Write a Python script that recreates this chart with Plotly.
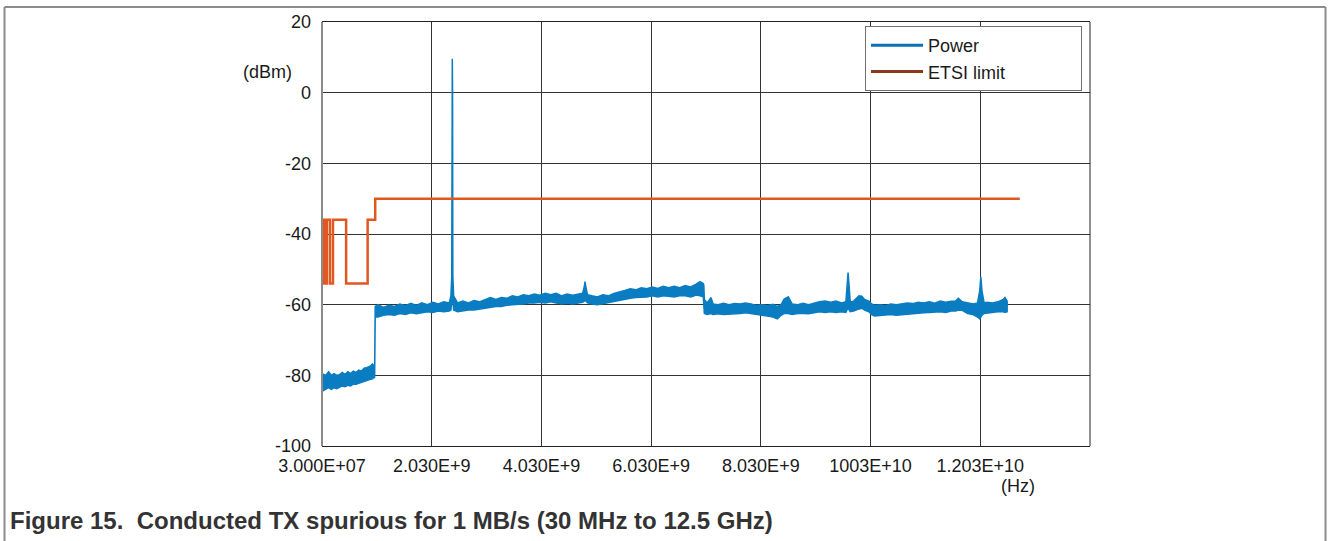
import plotly.graph_objects as go

# ---------------- data ----------------
# Power trace, read off the picture as an upper / lower envelope of the noisy spectrum
pw_freq_ghz = [0.03, 0.10, 0.15, 0.20, 0.25, 0.30, 0.35, 0.40, 0.45, 0.50, 0.55, 0.60, 0.65, 0.70, 0.75,
               0.80, 0.85, 0.90, 0.95, 0.99, 1.00, 1.05, 1.15, 1.25, 1.35, 1.45, 1.55, 1.65, 1.75, 1.85,
               1.95, 2.05, 2.15, 2.25, 2.35, 2.38, 2.395, 2.400, 2.405, 2.410, 2.415, 2.43, 2.50, 2.60,
               2.70, 2.80, 2.90, 3.00, 3.10, 3.20, 3.30, 3.40, 3.50, 3.60, 3.70, 3.80, 3.90, 4.00, 4.10,
               4.20, 4.30, 4.40, 4.50, 4.60, 4.70, 4.78, 4.81, 4.825, 4.84, 4.87, 4.95, 5.05, 5.15, 5.25,
               5.35, 5.45, 5.55, 5.65, 5.75, 5.85, 5.95, 6.05, 6.15, 6.25, 6.35, 6.45, 6.55, 6.65, 6.75,
               6.85, 6.92, 6.98, 6.99, 7.00, 7.05, 7.12, 7.16, 7.25, 7.35, 7.45, 7.55, 7.65, 7.75, 7.85,
               7.95, 8.05, 8.15, 8.25, 8.33, 8.40, 8.45, 8.53, 8.60, 8.70, 8.80, 8.90, 9.00, 9.10, 9.20,
               9.30, 9.40, 9.50, 9.58, 9.60, 9.62, 9.64, 9.66, 9.72, 9.78, 9.82, 9.87, 9.92, 10.00, 10.05,
               10.10, 10.20, 10.30, 10.40, 10.50, 10.60, 10.70, 10.80, 10.90, 11.00, 11.10, 11.20, 11.30,
               11.40, 11.50, 11.58, 11.63, 11.70, 11.80, 11.90, 11.98, 12.02, 12.04, 12.06, 12.10, 12.15,
               12.25, 12.35, 12.45, 12.48, 12.52]
pw_upper = [-79.5, -80.0, -79.0, -80.0, -79.5, -80.0, -79.8, -79.2, -79.8, -79.0, -79.5, -78.8, -79.2, -78.5, -78.8,
            -78.0, -77.8, -77.5, -76.8, -77.5, -60.5, -60.0, -60.8, -60.2, -60.5, -59.8, -60.3, -59.6, -60.2, -59.5,
            -60.0, -59.3, -59.8, -59.2, -59.5, -57.5, -52.0, 0.0, 9.6, 0.0, -52.0, -57.5, -59.5, -59.0,
            -59.5, -58.8, -59.2, -58.5, -58.0, -58.5, -58.0, -58.2, -57.5, -57.8, -57.2, -57.5, -57.0, -57.3, -56.8,
            -57.2, -56.8, -57.5, -57.0, -57.3, -57.0, -56.8, -55.0, -53.5, -55.0, -57.2, -57.5, -57.8, -57.2, -57.5,
            -56.8, -56.5, -56.0, -55.5, -55.8, -55.2, -55.5, -55.0, -55.4, -54.8, -55.2, -54.8, -55.2, -54.6, -55.0,
            -54.2, -53.5, -54.0, -54.5, -58.5, -59.5, -58.0, -59.8, -60.0, -59.6, -60.0, -59.7, -59.8, -59.5, -59.8,
            -60.2, -60.0, -60.3, -59.9, -60.5, -60.0, -58.5, -57.8, -59.8, -60.0, -59.6, -60.0, -59.5, -59.2, -59.0,
            -59.3, -59.0, -59.5, -59.2, -55.0, -50.9, -55.0, -59.3, -59.0, -58.0, -57.5, -57.6, -58.5, -59.0, -59.8,
            -60.2, -60.0, -60.3, -59.8, -60.0, -59.8, -59.5, -59.7, -59.3, -59.5, -59.2, -59.6, -59.0,
            -59.3, -59.0, -59.0, -58.2, -59.2, -59.5, -59.8, -59.5, -56.0, -52.1, -56.0, -59.5, -59.3,
            -59.5, -59.2, -58.5, -58.0, -59.0]
pw_lower = [-84.5, -84.0, -83.5, -84.0, -83.5, -83.8, -83.5, -83.0, -83.2, -82.8, -83.0, -82.5, -82.5, -82.2, -82.0,
            -81.8, -81.5, -81.2, -81.0, -80.5, -63.5, -63.5, -63.0, -62.8, -63.0, -62.5, -62.8, -62.3, -62.6, -62.2,
            -62.0, -62.2, -61.8, -62.0, -61.8, -61.5, -59.0, -58.0, -57.0, -58.0, -59.0, -61.5, -62.0, -61.8,
            -61.5, -61.5, -61.3, -61.0, -60.8, -60.5, -60.5, -60.2, -60.0, -59.8, -59.8, -59.5, -59.5, -59.3, -59.5,
            -59.2, -59.5, -59.8, -59.5, -59.8, -59.5, -59.3, -59.0, -58.5, -59.0, -59.5, -59.8, -60.0, -59.8, -59.5,
            -59.2, -58.8, -58.5, -58.2, -58.0, -57.8, -57.8, -57.5, -57.8, -57.5, -57.6, -57.8, -57.5, -57.5, -57.8,
            -57.3, -57.5, -57.8, -58.0, -62.5, -62.8, -62.5, -62.8, -62.6, -62.8, -62.5, -62.6, -62.5, -62.3, -62.6,
            -62.8, -63.0, -63.2, -63.5, -64.0, -63.0, -62.5, -62.5, -62.8, -62.5, -62.5, -62.6, -62.3, -62.0, -62.2,
            -62.0, -62.2, -62.0, -62.2, -61.5, -61.0, -61.5, -62.0, -61.8, -61.5, -61.2, -61.0, -61.5, -62.0, -62.8,
            -63.2, -63.0, -63.0, -62.8, -63.0, -62.8, -62.6, -62.5, -62.4, -62.3, -62.2, -62.0, -62.0,
            -62.2, -61.8, -61.8, -61.5, -61.6, -62.5, -62.8, -63.5, -64.0, -63.5, -63.0, -62.5, -62.3,
            -62.2, -62.0, -62.0, -62.2, -62.0]

# ETSI spurious limit (step function)
etsi_freq_ghz = [0.03, 0.047, 0.074, 0.0875, 0.118, 0.174, 0.230, 0.470, 0.862, 1.0, 12.75]
etsi_dbm = [-36, -54, -36, -54, -36, -54, -36, -54, -36, -30, -30]

x_tick_hz = [3.0e7, 2.03e9, 4.03e9, 6.03e9, 8.03e9, 1.003e10, 1.203e10, 1.403e10]
x_tick_text = ["3.000E+07", "2.030E+9", "4.030E+9", "6.030E+9", "8.030E+9", "1003E+10", "1.203E+10", ""]
y_ticks = [-100, -80, -60, -40, -20, 0, 20]
y_tick_text = ["-100", "-80", "-60", "-40", "-20", "0", "20"]

# ---------------- layout geometry ----------------
W, H = 1328, 541
L, R, T, B = 322, 1090, 20, 446
pw_w, pw_h = R - L, B - T


def px(x):
    return (x - L) / pw_w


def py(y):
    return (B - y) / pw_h


BLUE = "#0a7dc2"
ORANGE = "#e2571f"
FONT = "Liberation Sans, Arial, sans-serif"
NBSP = "\u00a0"

pw_x = [f * 1e9 for f in pw_freq_ghz]
poly_x = pw_x + pw_x[::-1]
poly_y = pw_upper + pw_lower[::-1]

fig = go.Figure()
fig.add_trace(go.Scatter(x=poly_x, y=poly_y, mode="lines", fill="toself", fillcolor=BLUE,
                         line=dict(color=BLUE, width=1.5), name="Power", showlegend=False,
                         hoverinfo="skip"))
fig.add_trace(go.Scatter(x=[f * 1e9 for f in etsi_freq_ghz], y=etsi_dbm, mode="lines",
                         line=dict(color=ORANGE, width=2.5, shape="hv"), name="ETSI limit",
                         showlegend=False))
# legend entries
fig.add_trace(go.Scatter(x=[None], y=[None], mode="lines", line=dict(color="#0b6fb3", width=3),
                         name="Power"))
fig.add_trace(go.Scatter(x=[None], y=[None], mode="lines", line=dict(color="#8a3a1c", width=3),
                         name="ETSI limit" + NBSP * 14))

fig.update_layout(
    width=W, height=H,
    margin=dict(l=L, r=W - R, t=T, b=H - B, pad=0),
    paper_bgcolor="white", plot_bgcolor="white",
    font=dict(family=FONT, size=18, color="#1a1a1a"),
    showlegend=True,
    legend=dict(x=px(865), y=py(24), xanchor="left", yanchor="top",
                bgcolor="white", bordercolor="#707070", borderwidth=1, itemwidth=52,
                font=dict(family=FONT, size=18, color="#1a1a1a"), tracegroupgap=0),
    xaxis=dict(range=[3.0e7, 1.403e10], tickmode="array", tickvals=x_tick_hz, ticktext=x_tick_text,
               showgrid=True, gridcolor="#333333", gridwidth=1, zeroline=False,
               showline=True, linecolor="#222222", linewidth=1, mirror=True, ticks="",
               ticklabelstandoff=3,
               tickfont=dict(family=FONT, size=18, color="#1a1a1a")),
    yaxis=dict(range=[-100, 20], tickmode="array", tickvals=y_ticks, ticktext=y_tick_text,
               showgrid=True, gridcolor="#333333", gridwidth=1, zeroline=False,
               showline=False, ticks="", ticklabelstandoff=10,
               tickfont=dict(family=FONT, size=18, color="#1a1a1a")),
    shapes=[
        # left axis (grey)
        dict(type="line", xref="paper", yref="paper", x0=0, x1=0, y0=0, y1=1,
             line=dict(color="#8a8a8a", width=2)),
        # right edge
        dict(type="line", xref="paper", yref="paper", x0=1, x1=1, y0=0, y1=1,
             line=dict(color="#222222", width=1)),
        # outer figure frame (top, left, right)
        dict(type="line", xref="paper", yref="paper", x0=px(4.5), x1=px(1325.5), y0=py(5), y1=py(5),
             line=dict(color="#8c8c8c", width=2)),
        dict(type="line", xref="paper", yref="paper", x0=px(4.5), x1=px(4.5), y0=py(5), y1=py(545),
             line=dict(color="#8c8c8c", width=2)),
        dict(type="line", xref="paper", yref="paper", x0=px(1325.5), x1=px(1325.5), y0=py(5), y1=py(545),
             line=dict(color="#8c8c8c", width=2)),
    ],
    annotations=[
        dict(text="(dBm)", xref="paper", yref="paper", x=px(267), y=py(70), showarrow=False,
             xanchor="center", yanchor="middle", font=dict(family=FONT, size=18, color="#1a1a1a")),
        dict(text="(Hz)", xref="paper", yref="paper", x=px(1018), y=py(486), showarrow=False,
             xanchor="center", yanchor="middle", font=dict(family=FONT, size=18, color="#1a1a1a")),
        dict(text="<b>Figure 15.  Conducted TX spurious for 1 MB/s (30 MHz to 12.5 GHz)</b>",
             xref="paper", yref="paper", x=px(8), y=py(521), showarrow=False,
             xanchor="left", yanchor="middle", font=dict(family=FONT, size=24, color="#333333")),
    ],
)

fig.write_html("out.html")
